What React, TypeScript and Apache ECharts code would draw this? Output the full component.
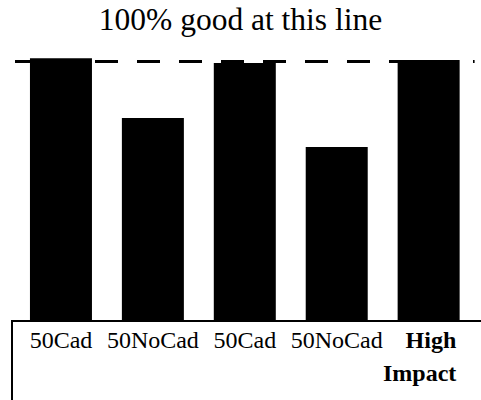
import React, { useEffect, useRef } from "react";
import * as echarts from "echarts";

const categories = ["50Cad", "50NoCad", "50Cad", "50NoCad", "High\nImpact"];
const values = [101, 78, 99.2, 66.8, 100.4];
const referenceLevel = 100;
const titleText = "100% good at this line";

export default function App() {
  const ref = useRef<HTMLDivElement>(null);
  useEffect(() => {
    if (!ref.current) return;
    const chart = echarts.init(ref.current, null, { renderer: "svg" });
    const font = "Liberation Serif";
    chart.setOption({
      animation: false,
      backgroundColor: "#fff",
      title: {
        text: titleText,
        left: "center",
        top: 3,
        padding: 0,
        textStyle: { fontFamily: font, fontSize: 31.5, fontWeight: "normal", color: "#000" },
      },
      grid: { left: 15, right: 6.4, top: 48, bottom: 80, containLabel: false },
      xAxis: {
        type: "category",
        data: categories,
        axisLine: { show: false },
        axisTick: { show: false },
        axisLabel: {
          interval: 0,
          margin: 3,
          color: "#000",
          fontFamily: font,
          fontSize: 24,
          lineHeight: 33,
          formatter: (v: string) => {
            if (v.indexOf("\n") >= 0) {
              return v
                .split("\n")
                .map((s) => `{b|${s}}`)
                .join("\n");
            }
            return v;
          },
          rich: {
            b: {
              fontFamily: font,
              fontSize: 24,
              fontWeight: "bold",
              color: "#000",
              align: "right",
              lineHeight: 33,
              padding: [0, 18, 0, 0],
            },
          },
        },
      },
      yAxis: {
        type: "value",
        min: 0,
        max: 105,
        show: false,
        splitLine: { show: false },
      },
      series: [
        {
          type: "bar",
          data: values,
          barWidth: 62,
          itemStyle: { color: "#000" },
          markLine: {
            silent: true,
            symbol: "none",
            label: { show: false },
            lineStyle: { color: "#000", width: 3, type: [23, 19], dashOffset: 4 },
            data: [{ yAxis: referenceLevel }],
          },
        },
      ],
      graphic: [
        {
          type: "rect",
          shape: { x: 12, y: 321, width: 480, height: 100 },
          style: { fill: "none", stroke: "#000", lineWidth: 2 },
          z: 10,
        },
      ],
    });
    return () => chart.dispose();
  }, []);
  return <div ref={ref} style={{ width: 481, height: 400, position: "absolute", left: 0, top: 0 }} />;
}
